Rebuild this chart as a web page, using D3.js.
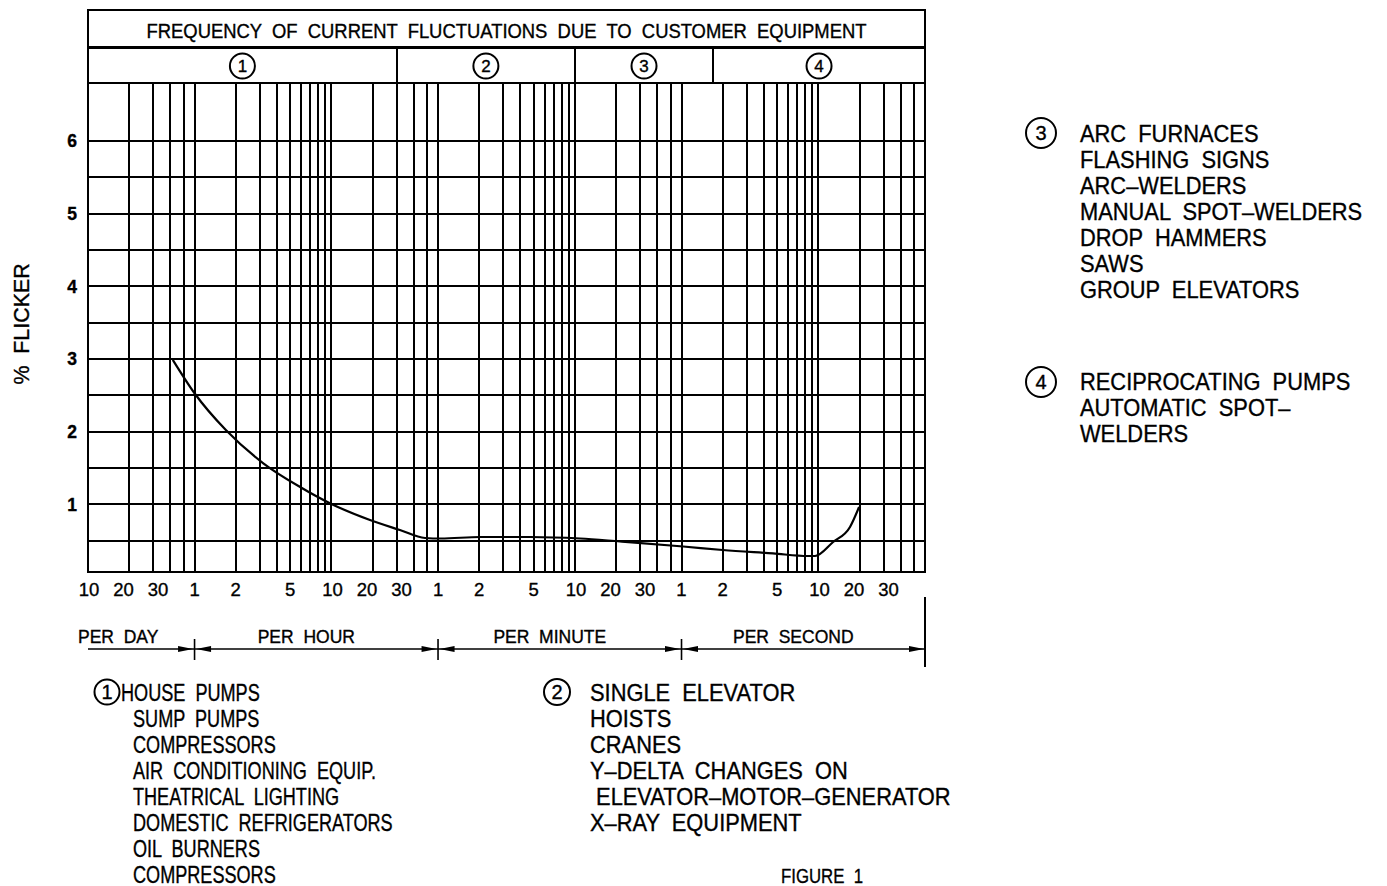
<!DOCTYPE html>
<meta charset="UTF-8">
<head>
    <title>Frequency of current fluctuations</title>
    <style>
        body { margin: 0; background: #fff; }
        text { font-family: "Liberation Sans", Arial, sans-serif; white-space: pre; fill: #000; stroke: #000; stroke-width: 0.35; }
    </style>
</head>
<body>
<svg width="1387" height="886"></svg>
<script src="https://d3js.org/d3.v7.min.js"></script>
<script>

// Units on the frequency axis (the drawing steps 60x from one unit to the next).
var units = ["day", "hour", "minute", "second"];
var unitFactor = [1, 60, 3600, 216000];

// Vertical grid lines inside each unit.
var dayLines = [10, 20, 30, 40, 50];
var subLines = [1, 2, 3, 4, 5, 6, 7, 8, 9, 10, 20, 30, 40, 50];

// Tick labels under the grid.
var dayTicks = [10, 20, 30];
var subTicks = [1, 2, 5, 10, 20, 30];

// % flicker.
var flickerLines = [0.5, 1, 1.5, 2, 2.5, 3, 3.5, 4, 4.5, 5, 5.5, 6];
var flickerTicks = [1, 2, 3, 4, 5, 6];

// The curve: rate, unit, % flicker.
var curveRate = [41.6, 1.0, 1.7, 3.16, 5.9, 9.9, 19.1, 31.6, 48.2, 1.05, 2.03, 4.7, 10.9, 21.3, 1.03, 2.0, 4.66, 8.4, 9.44, 12.8, 17.0, 19.8];
var curveUnit = ["day", "hour", "hour", "hour", "hour", "hour", "hour", "hour", "hour",
                 "minute", "minute", "minute", "minute", "minute", "second", "second", "second", "second", "second", "second", "second", "second"];
var curvePct = [2.99, 2.53, 2.02, 1.57, 1.24, 1.01, 0.785, 0.648, 0.538, 0.531, 0.552, 0.552, 0.531, 0.49, 0.421, 0.373, 0.325, 0.29, 0.29, 0.483, 0.69, 0.965];

// Equipment groups across the top.
var groupNames = ["1", "2", "3", "4"];
var groupBreakRate = [30, 10, 1.7];
var groupBreakUnit = ["hour", "minute", "second"];

var title = "FREQUENCY  OF  CURRENT  FLUCTUATIONS  DUE  TO  CUSTOMER  EQUIPMENT";
var sectionNames = ["PER  DAY", "PER  HOUR", "PER  MINUTE", "PER  SECOND"];

var legend1 = ["HOUSE  PUMPS", "SUMP  PUMPS", "COMPRESSORS", "AIR  CONDITIONING  EQUIP.", "THEATRICAL  LIGHTING",
               "DOMESTIC  REFRIGERATORS", "OIL  BURNERS", "COMPRESSORS"];
var legend2 = ["SINGLE  ELEVATOR", "HOISTS", "CRANES", "Y\u2013DELTA  CHANGES  ON", " ELEVATOR\u2013MOTOR\u2013GENERATOR", "X\u2013RAY  EQUIPMENT"];
var legend3 = ["ARC  FURNACES", "FLASHING  SIGNS", "ARC\u2013WELDERS", "MANUAL  SPOT\u2013WELDERS", "DROP  HAMMERS", "SAWS", "GROUP  ELEVATORS"];
var legend4 = ["RECIPROCATING  PUMPS", "AUTOMATIC  SPOT\u2013", "WELDERS"];

// ---- layout
var svg = d3.select("svg");
var X0 = 88, X1 = 925;      // plot left/right
var HT = 10, HM = 47;       // header top, title divider
var YT = 83, YB = 572;      // plot top/bottom
var yMin = 0.07, yMax = 6.8;

function u(rate, unit) { return rate * unitFactor[units.indexOf(unit)]; }

var x = d3.scaleLog().domain([u(10, "day"), u(60, "second")]).range([X0, X1]);
var y = d3.scaleLinear().domain([yMin, yMax]).range([YB, YT]);

// drafting-style text: tall letters squeezed sideways by sx
function label(g, tx, ty, str, size, sx, anchor) {
    return g.append("text")
        .attr("transform", "translate(" + tx + "," + ty + ") scale(" + sx + ",1)")
        .attr("text-anchor", anchor || "start")
        .attr("font-size", size)
        .text(str);
}

svg.append("rect").attr("width", 1387).attr("height", 886).attr("fill", "#fff");

// vertical grid
var vLines = dayLines.map(function(d) { return u(d, "day"); });
units.slice(1).forEach(function(un) {
    subLines.forEach(function(d) { vLines.push(u(d, un)); });
});
vLines = vLines.filter(function(v) { return v > x.domain()[0]; });

var grid = svg.append("g").attr("stroke", "#000").attr("stroke-width", 2).attr("shape-rendering", "crispEdges");
grid.selectAll(".v").data(vLines).enter().append("line")
    .attr("x1", function(d) { return x(d); }).attr("x2", function(d) { return x(d); })
    .attr("y1", YT).attr("y2", YB);
grid.selectAll(".h").data(flickerLines).enter().append("line")
    .attr("x1", X0).attr("x2", X1)
    .attr("y1", function(d) { return y(d); }).attr("y2", function(d) { return y(d); });

// frame + header
var frame = svg.append("g").attr("stroke", "#000").attr("fill", "none").attr("shape-rendering", "crispEdges");
frame.append("rect").attr("x", X0).attr("y", HT).attr("width", X1 - X0).attr("height", YB - HT).attr("stroke-width", 2);
frame.append("line").attr("x1", X0).attr("x2", X1).attr("y1", HM).attr("y2", HM).attr("stroke-width", 3);
frame.append("line").attr("x1", X0).attr("x2", X1).attr("y1", YT).attr("y2", YT).attr("stroke-width", 2);

var breaks = groupBreakRate.map(function(r, i) { return x(u(r, groupBreakUnit[i])); });
frame.selectAll(".brk").data(breaks).enter().append("line")
    .attr("x1", function(d) { return d; }).attr("x2", function(d) { return d; })
    .attr("y1", HM).attr("y2", YT).attr("stroke-width", 2);

svg.append("text").attr("x", (X0 + X1) / 2).attr("y", 38)
    .attr("text-anchor", "middle").attr("font-size", 19.5)
    .attr("textLength", 720).attr("lengthAdjust", "spacingAndGlyphs")
    .text(title);

function circled(g, cx, cy, r, str, fs) {
    g.append("circle").attr("cx", cx).attr("cy", cy).attr("r", r)
        .attr("fill", "none").attr("stroke", "#000").attr("stroke-width", 2);
    g.append("text").attr("x", cx).attr("y", cy).attr("dy", "0.36em")
        .attr("text-anchor", "middle").attr("font-size", fs).text(str);
}

var edges = [X0].concat(breaks).concat([X1]);
groupNames.forEach(function(n, i) {
    circled(svg, (edges[i] + edges[i + 1]) / 2, 66, 12.5, n, 17);
});

// y tick labels
svg.selectAll(".yt").data(flickerTicks).enter().append("text")
    .attr("x", 72).attr("y", function(d) { return y(d); }).attr("dy", "0.36em")
    .attr("text-anchor", "middle").attr("font-size", 17.5).attr("font-weight", "bold")
    .text(function(d) { return d; });

svg.append("text").attr("transform", "translate(29,324) rotate(-90) scale(0.93,1)")
    .attr("text-anchor", "middle").attr("font-size", 23).text("%  FLICKER");

// x tick labels: 10/20/30 groups are spread evenly around their mean
var tickLabels = [];
units.forEach(function(un, k) {
    var vals = k === 0 ? dayTicks : subTicks;
    var pos = vals.map(function(v) { return x(u(v, un)); });
    var trip = vals.map(function(v, i) { return v >= 10 ? i : -1; }).filter(function(i) { return i >= 0; });
    var mean = d3.mean(trip, function(i) { return pos[i]; });
    trip.forEach(function(i, j) { pos[i] = mean + (j - (trip.length - 1) / 2) * 34.5; });
    vals.forEach(function(v, i) { tickLabels.push({ label: v, x: pos[i] }); });
});
svg.selectAll(".xt").data(tickLabels).enter().append("text")
    .attr("x", function(d) { return d.x; }).attr("y", 596)
    .attr("text-anchor", "middle").attr("font-size", 18.5)
    .text(function(d) { return d.label; });

// the curve
var pts = curveRate.map(function(r, i) { return [x(u(r, curveUnit[i])), y(curvePct[i])]; });
svg.append("path").datum(pts)
    .attr("d", d3.line().curve(d3.curveMonotoneX))
    .attr("fill", "none").attr("stroke", "#000").attr("stroke-width", 2.2);

// unit ranges under the axis
var AY = 649;
var unitEdges = [X0, x(u(1, "hour")), x(u(1, "minute")), x(u(1, "second")), X1];
var ax = svg.append("g").attr("stroke", "#000");
ax.append("line").attr("x1", X0).attr("x2", X1).attr("y1", AY).attr("y2", AY).attr("stroke-width", 1.6);
unitEdges.slice(1, 4).forEach(function(e) {
    ax.append("line").attr("x1", e).attr("x2", e).attr("y1", AY - 10).attr("y2", AY + 11).attr("stroke-width", 1.6);
});
ax.append("line").attr("x1", X1).attr("x2", X1).attr("y1", 597).attr("y2", 667).attr("stroke-width", 2);

function arrow(tip, dir) {
    return "M" + tip + "," + AY + "L" + (tip - dir * 15) + "," + (AY - 3) + "L" + (tip - dir * 15) + "," + (AY + 3) + "Z";
}
var heads = [];
unitEdges.slice(1, 4).forEach(function(e) { heads.push(arrow(e - 1.5, 1)); heads.push(arrow(e + 1.5, -1)); });
heads.push(arrow(X1 - 1, 1));
svg.selectAll(".ah").data(heads).enter().append("path").attr("d", function(d) { return d; }).attr("fill", "#000");

sectionNames.forEach(function(s, i) {
    if (i === 0) label(svg, X0 - 10, 643, s, 17.5, 1);
    else label(svg, (unitEdges[i] + unitEdges[i + 1]) / 2 - 10, 643, s, 17.5, 1, "middle");
});

// legends
function legend(lines, num, cx, cy, r, firstX, restX, baseY, fs, sx) {
    var g = svg.append("g");
    circled(g, cx, cy, r, num, 20);
    lines.forEach(function(d, i) {
        label(g, i === 0 ? firstX : restX, baseY + i * 26, d, fs, sx);
    });
}
legend(legend1, "1", 107, 692, 12.5, 121, 133, 701, 23.5, 0.77);
legend(legend2, "2", 557, 692, 13, 590, 590, 701, 23.5, 0.93);
legend(legend3, "3", 1041, 133, 15, 1080, 1080, 142, 23.5, 0.93);
legend(legend4, "4", 1041, 382, 15, 1080, 1080, 390, 23.5, 0.93);

label(svg, 781, 883, "FIGURE  1", 21, 0.8);

</script>
</body>
